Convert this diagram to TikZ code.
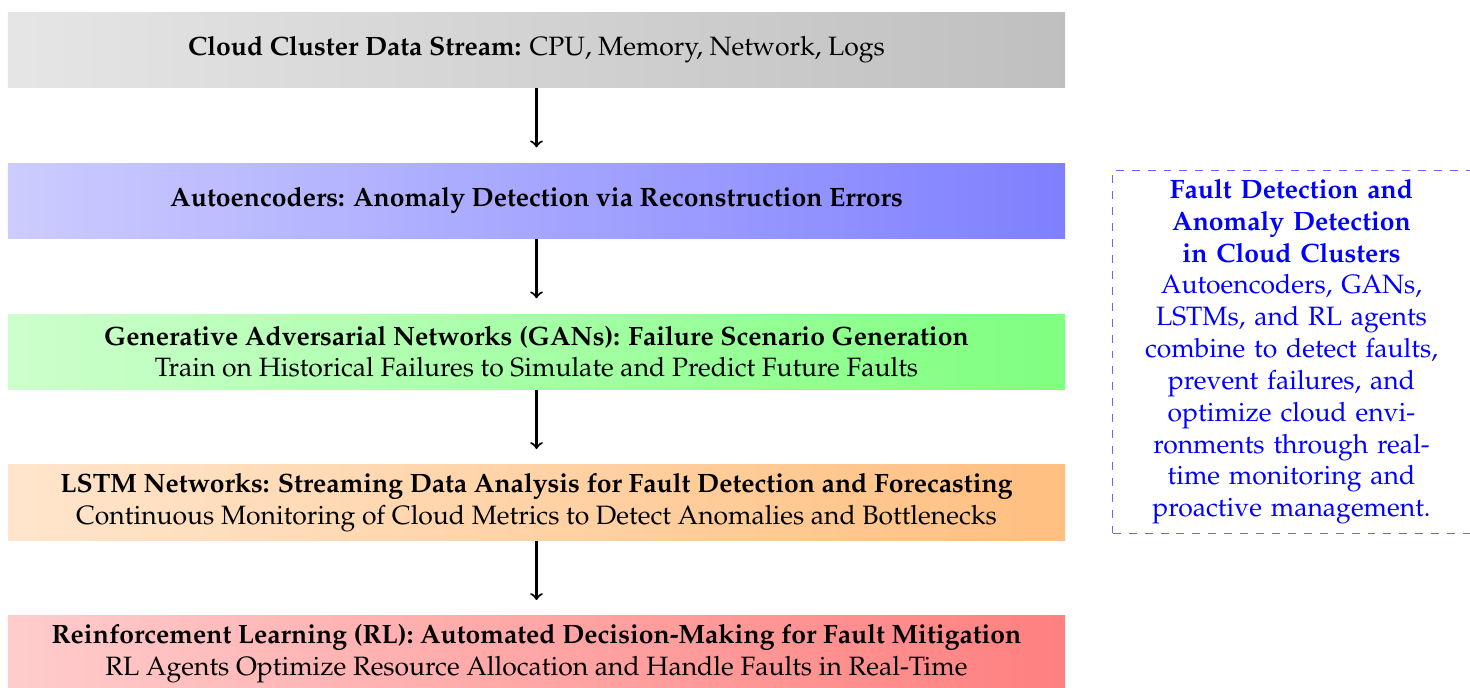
\documentclass[tikz,border=0pt]{standalone}
\usepackage[T1]{fontenc}
\usepackage{mathpazo}
\usepackage{tikz}
\tikzstyle{stage} = [rectangle, minimum width=14cm, minimum height=1cm, text centered, align=center]
\tikzstyle{arrow} = [thick,->,shorten >=0.2cm]
\tikzstyle{summary} = [rectangle, draw=blue!60, dashed, text=blue, text width=4.5cm, align=center]

\begin{document}
\begin{tikzpicture}
        \useasboundingbox (-7.106,0.659) rectangle (12.364,-8.451);
        \node (data) [stage, left color=gray!20, right color=gray!50] {\textbf{Cloud Cluster Data Stream:} CPU, Memory, Network, Logs};
        \node (ae) [stage, below of=data, node distance=2cm, left color=blue!20, right color=blue!50] {\textbf{Autoencoders: Anomaly Detection via Reconstruction Errors}};
        \node (gan) [stage, below of=ae, node distance=2cm, left color=green!20, right color=green!50] {\textbf{Generative Adversarial Networks (GANs): Failure Scenario Generation}\\Train on Historical Failures to Simulate and Predict Future Faults};
        \node (lstm) [stage, below of=gan, node distance=2cm, left color=orange!20, right color=orange!50] {\textbf{LSTM Networks: Streaming Data Analysis for Fault Detection and Forecasting}\\Continuous Monitoring of Cloud Metrics to Detect Anomalies and Bottlenecks};
        \node (rl) [stage, below of=lstm, node distance=2cm, left color=red!20, right color=red!50] {\textbf{Reinforcement Learning (RL): Automated Decision-Making for Fault Mitigation}\\RL Agents Optimize Resource Allocation and Handle Faults in Real-Time};
        \node (info) [summary, right of=gan, node distance=10cm] {\textbf{Fault Detection and}\\\textbf{Anomaly Detection}\\\textbf{in Cloud Clusters}\\Autoencoders, GANs,\\LSTMs, and RL agents\\combine to detect faults,\\prevent failures, and\\optimize cloud envi-\\ronments through real-\\time monitoring and\\proactive management.};

            % Add arrows connecting the stages
        \draw [arrow] (data) -- (ae);
        \draw [arrow] (ae) -- (gan);
        \draw [arrow] (gan) -- (lstm);
        \draw [arrow] (lstm) -- (rl);
    \end{tikzpicture}
\end{document}
